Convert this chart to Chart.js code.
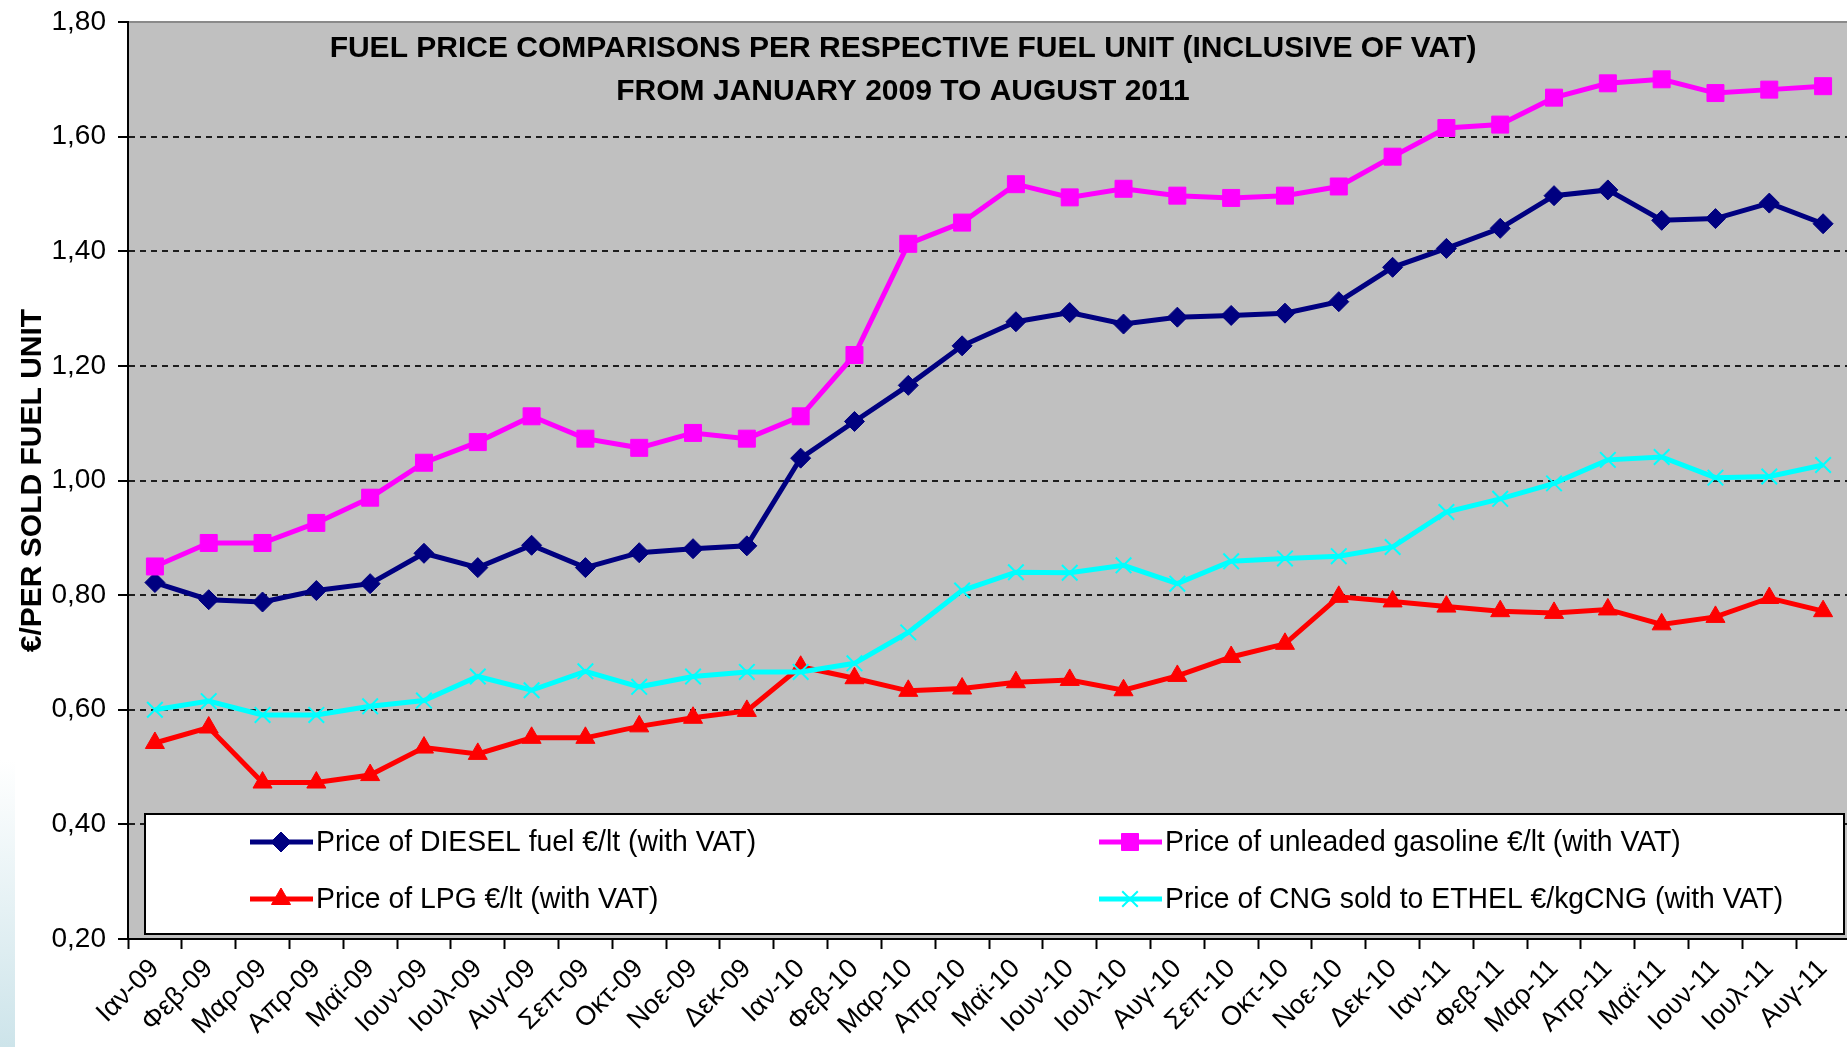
<!DOCTYPE html>
<html>
<head>
<meta charset="utf-8">
<script src="https://cdn.jsdelivr.net/npm/chart.js@4.4.1/dist/chart.umd.min.js"></script>
<style>
    html, body { margin: 0; padding: 0; background: #fff; overflow: hidden; }
    #wrap { position: relative; width: 1863px; height: 1047px; }
    #edge { position: absolute; left: 0; top: 760px; width: 15px; height: 287px; background: linear-gradient(#ffffff, #cde4ea); }
</style>
</head>
<body>
<div id="wrap"><canvas id="fuel-chart" width="1863" height="1047"></canvas></div>
<div id="edge"></div>
<script>
const months = ['Ιαν-09', 'Φεβ-09', 'Μαρ-09', 'Απρ-09', 'Μαϊ-09', 'Ιουν-09', 'Ιουλ-09', 'Αυγ-09',
    'Σεπ-09', 'Οκτ-09', 'Νοε-09', 'Δεκ-09', 'Ιαν-10', 'Φεβ-10', 'Μαρ-10', 'Απρ-10',
    'Μαϊ-10', 'Ιουν-10', 'Ιουλ-10', 'Αυγ-10', 'Σεπ-10', 'Οκτ-10', 'Νοε-10', 'Δεκ-10',
    'Ιαν-11', 'Φεβ-11', 'Μαρ-11', 'Απρ-11', 'Μαϊ-11', 'Ιουν-11', 'Ιουλ-11', 'Αυγ-11'];

const dieselPrice = [0.822, 0.792, 0.788, 0.808, 0.820, 0.873, 0.848, 0.887, 0.848, 0.874, 0.881, 0.886,
    1.039, 1.103, 1.166, 1.235, 1.277, 1.293, 1.273, 1.285, 1.288, 1.292, 1.312, 1.372,
    1.405, 1.440, 1.497, 1.507, 1.454, 1.457, 1.484, 1.448];
const unleadedPrice = [0.850, 0.891, 0.891, 0.926, 0.970, 1.031, 1.067, 1.112, 1.073, 1.057, 1.083, 1.073,
    1.112, 1.219, 1.413, 1.450, 1.517, 1.494, 1.509, 1.497, 1.493, 1.497, 1.513, 1.565,
    1.615, 1.621, 1.668, 1.693, 1.700, 1.676, 1.682, 1.688];
const lpgPrice = [0.542, 0.569, 0.473, 0.473, 0.486, 0.534, 0.523, 0.551, 0.551, 0.571, 0.586, 0.598,
    0.675, 0.655, 0.633, 0.637, 0.648, 0.652, 0.634, 0.659, 0.692, 0.715, 0.797, 0.789,
    0.780, 0.772, 0.769, 0.775, 0.749, 0.762, 0.795, 0.772];
const cngPrice = [0.600, 0.615, 0.591, 0.591, 0.606, 0.616, 0.658, 0.634, 0.667, 0.640, 0.658, 0.666,
    0.666, 0.681, 0.735, 0.808, 0.840, 0.839, 0.852, 0.820, 0.859, 0.864, 0.868, 0.884,
    0.945, 0.968, 0.995, 1.036, 1.041, 1.005, 1.007, 1.027];

const yTicks = [0.2, 0.4, 0.6, 0.8, 1.0, 1.2, 1.4, 1.6, 1.8];
const titleLines = ['FUEL PRICE COMPARISONS PER RESPECTIVE FUEL UNIT (INCLUSIVE OF VAT)',
    'FROM JANUARY 2009 TO AUGUST 2011'];

const sans = '"Liberation Sans", Arial, sans-serif';

// grey plot area with a thin top edge
const plotBackground = {
    id: 'plotBackground',
    beforeDraw(chart) {
        let ctx = chart.ctx;
        let a = chart.chartArea;
        ctx.save();
        ctx.fillStyle = '#c0c0c0';
        ctx.fillRect(a.left, a.top, a.right - a.left, a.bottom - a.top);
        ctx.strokeStyle = '#8a8a8a';
        ctx.lineWidth = 2;
        ctx.beginPath();
        ctx.moveTo(a.left, a.top);
        ctx.lineTo(a.right, a.top);
        ctx.stroke();
        ctx.restore();
    }
};

// title and boxed legend drawn inside the plot, like the excel original
const insideText = {
    id: 'insideText',
    afterDatasetsDraw(chart) {
        let ctx = chart.ctx;
        let a = chart.chartArea;
        ctx.save();

        ctx.fillStyle = '#000';
        ctx.textAlign = 'center';
        ctx.textBaseline = 'middle';
        ctx.font = 'bold 30px ' + sans;
        ctx.fillText(titleLines[0], a.left + 775, a.top + 27);
        ctx.fillText(titleLines[1], a.left + 775, a.top + 70);

        let x0 = a.left + 17, y0 = a.bottom - 125, x1 = 1844, y1 = a.bottom - 5;
        ctx.fillStyle = '#fff';
        ctx.fillRect(x0, y0, x1 - x0, y1 - y0);
        ctx.strokeStyle = '#000';
        ctx.lineWidth = 2;
        ctx.strokeRect(x0, y0, x1 - x0, y1 - y0);

        let slots = [[a.left + 122, y0 + 28], [a.left + 971, y0 + 28],
                     [a.left + 122, y0 + 85], [a.left + 971, y0 + 85]];
        ctx.textAlign = 'left';
        ctx.font = '30px ' + sans;
        chart.data.datasets.forEach((ds, i) => {
            let [sx, sy] = slots[i];
            ctx.strokeStyle = ds.borderColor;
            ctx.fillStyle = ds.backgroundColor;
            ctx.lineWidth = ds.borderWidth;
            ctx.beginPath();
            ctx.moveTo(sx, sy);
            ctx.lineTo(sx + 63, sy);
            ctx.stroke();
            ctx.lineWidth = ds.pointBorderWidth;
            Chart.helpers.drawPoint(ctx, {
                pointStyle: ds.pointStyle, rotation: 0,
                radius: ds.pointRadius, borderWidth: ds.pointBorderWidth
            }, sx + 31, sy);
            // squeeze the text a bit, the original font is narrower
            ctx.save();
            ctx.translate(sx + 66, sy + 1);
            ctx.scale(0.945, 1);
            ctx.fillStyle = '#000';
            ctx.fillText(ds.label, 0, 0);
            ctx.restore();
        });
        ctx.restore();
    }
};

let canvasContext = document.getElementById('fuel-chart').getContext('2d');
new Chart(canvasContext, {
    type: 'line',
    data: {
        labels: months,
        datasets: [{
            label: 'Price of DIESEL fuel €/lt (with VAT)',
            data: dieselPrice,
            borderColor: '#000080',
            backgroundColor: '#000080',
            borderWidth: 5,
            pointStyle: 'rectRot',
            pointRadius: 10,
            pointBorderWidth: 1,
            order: 4
        }, {
            label: 'Price of unleaded gasoline €/lt (with VAT)',
            data: unleadedPrice,
            borderColor: '#ff00ff',
            backgroundColor: '#ff00ff',
            borderWidth: 5,
            pointStyle: 'rect',
            pointRadius: 12,
            pointBorderWidth: 1,
            order: 3
        }, {
            label: 'Price of LPG €/lt (with VAT)',
            data: lpgPrice,
            borderColor: '#ff0000',
            backgroundColor: '#ff0000',
            borderWidth: 5,
            pointStyle: 'triangle',
            pointRadius: 11,
            pointBorderWidth: 1,
            order: 2
        }, {
            label: 'Price of CNG sold to ETHEL €/kgCNG (with VAT)',
            data: cngPrice,
            borderColor: '#00ffff',
            backgroundColor: '#00ffff',
            borderWidth: 5,
            pointStyle: 'crossRot',
            pointRadius: 11,
            pointBorderWidth: 2,
            order: 1
        }]
    },
    options: {
        responsive: false,
        animation: false,
        devicePixelRatio: 1,
        layout: { padding: { top: 22, right: 1, left: 0, bottom: 0 } },
        plugins: {
            legend: { display: false },
            tooltip: { enabled: false }
        },
        scales: {
            x: {
                offset: true,
                ticks: {
                    color: '#000',
                    font: { family: sans, size: 27 },
                    minRotation: 45,
                    maxRotation: 45,
                    autoSkip: false,
                    padding: 4
                },
                grid: {
                    offset: true,
                    drawOnChartArea: false,
                    drawTicks: true,
                    tickLength: 10,
                    tickColor: '#000',
                    tickWidth: 2
                },
                border: { display: true, color: '#000', width: 2 },
                afterFit: (scale) => {
                    scale.height = 108;
                    scale.paddingLeft = 0;
                    scale.paddingRight = 0;
                }
            },
            y: {
                min: yTicks[0],
                max: yTicks[yTicks.length - 1],
                afterBuildTicks: (scale) => {
                    scale.ticks = yTicks.map(v => ({ value: v }));
                },
                ticks: {
                    color: '#000',
                    font: { family: sans, size: 28 },
                    padding: 12,
                    callback: (value) => value.toFixed(2).replace('.', ',')
                },
                grid: {
                    color: (ctx) => (ctx.tick && ctx.tick.value > 1.79) ? 'rgba(0,0,0,0)' : '#1e1e1e',
                    lineWidth: 2,
                    tickColor: '#000',
                    tickLength: 10,
                    tickWidth: 2,
                    tickBorderDash: []
                },
                border: { display: true, color: '#000', width: 2, dash: [6, 5] },
                title: {
                    display: true,
                    text: '€/PER SOLD FUEL UNIT',
                    color: '#000',
                    font: { family: sans, size: 30, weight: 'bold' },
                    padding: { top: 15, bottom: 0 }
                },
                afterFit: (scale) => {
                    scale.width = 128;
                    scale.paddingTop = 0;
                    scale.paddingBottom = 0;
                }
            }
        }
    },
    plugins: [plotBackground, insideText]
});
</script>
</body>
</html>
